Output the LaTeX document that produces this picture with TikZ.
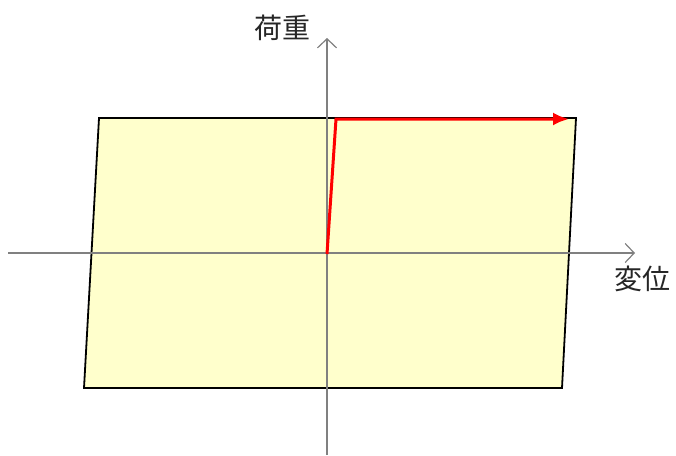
\documentclass[tikz,border=0pt]{standalone}
\usepackage{fontspec}
\newfontfamily\cjk{Noto Sans CJK JP}
\usetikzlibrary{arrows.meta}
\definecolor{fillyellow}{HTML}{FFFFCC}
\definecolor{axisgray}{HTML}{808080}
\begin{document}
\begin{tikzpicture}[x=1pt,y=-1pt,
  axis/.style={draw=axisgray,line width=1.2pt,-{Straight Barb[length=9pt,width=19pt,line width=1.2pt]}},
  loop/.style={draw=black,line width=1.8pt,fill=fillyellow,line join=miter},
  redpath/.style={draw=red,line width=3pt,-{Latex[length=16pt,width=13pt]}},
  lbl/.style={font=\cjk\fontsize{28}{30}\selectfont,text=black!85,inner sep=0pt}]
\useasboundingbox (0,0) rectangle (676,455);
\coordinate (tl) at (99,118);
\coordinate (tr) at (576,118);
\coordinate (br) at (562,388);
\coordinate (bl) at (84,388);
\draw[loop] (tl) -- (tr) -- (br) -- (bl) -- cycle;
\coordinate (xs) at (8,253);
\coordinate (xe) at (635,253);
\coordinate (ys) at (327,455);
\coordinate (ye) at (327,38);
\draw[axis] (xs) -- (xe);
\draw[axis] (ys) -- (ye);
\coordinate (o) at (327,254);
\coordinate (k) at (336,119);
\coordinate (re) at (569,119);
\draw[redpath,line join=miter] (o) -- (k) -- (re);
\node[lbl] (load) at (282,28) {荷重};
\node[lbl] (disp) at (642,279) {変位};
\end{tikzpicture}
\end{document}
